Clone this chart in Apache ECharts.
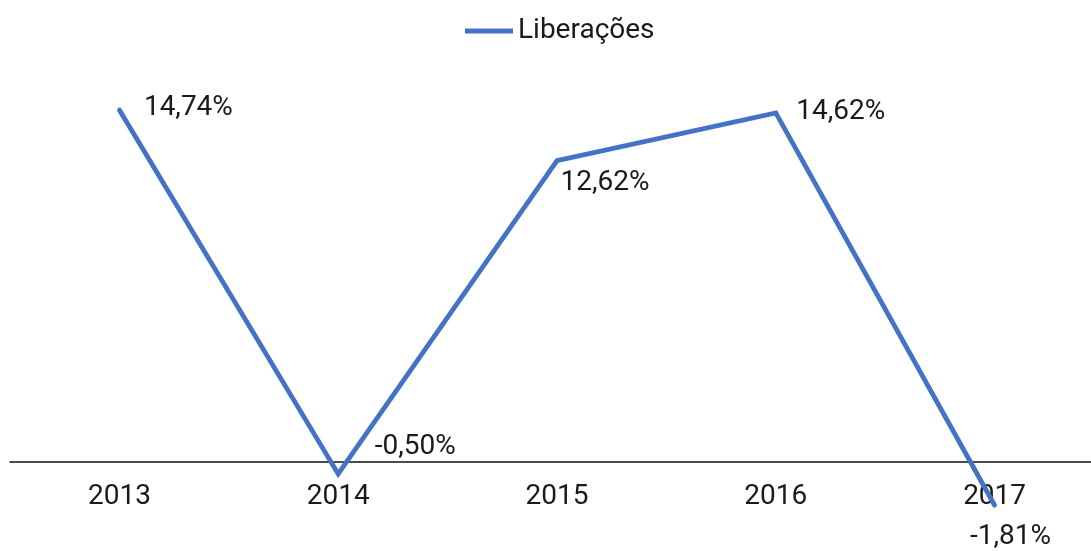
<!DOCTYPE html>
<html>
<head>
<meta charset="utf-8">
<style>
  html, body { margin: 0; padding: 0; background: #fff; }
  #chart { width: 1091px; height: 551px; }
</style>
<script src="https://cdn.jsdelivr.net/npm/echarts@6/dist/echarts.min.js"></script>
</head>
<body>
<div id="chart"></div>
<script>
// Annual change in releases (%)
const years = ['2013', '2014', '2015', '2016', '2017'];
const liberacoes = [14.74, -0.50, 12.62, 14.62, -1.81];
const seriesName = 'Liberações';

// Per-point label placement relative to each point: [dx, dy]
const labelOffsets = [[24, -2], [36, -27], [3, 22], [20, -1], [-25, 32]];

const fmt = v => v.toFixed(2).replace('.', ',') + '%';
const FONT = 'Roboto, "DejaVu Sans", sans-serif';

const chart = echarts.init(document.getElementById('chart'));
chart.setOption({
  backgroundColor: '#ffffff',
  animation: false,
  legend: {
    data: [seriesName],
    left: 460,
    top: 12,
    icon: 'rect',
    itemWidth: 48,
    itemHeight: 5,
    textStyle: { fontFamily: FONT, fontSize: 28, color: '#1a1a1a' }
  },
  // The x axis sits on the zero line (grid bottom); negative points spill below it.
  grid: { left: 10, width: 1094, top: 80, bottom: 89, outerBoundsMode: 'none', containLabel: false },
  xAxis: {
    type: 'category',
    data: years,
    boundaryGap: true,
    axisLine: { onZero: false, lineStyle: { color: '#111111', width: 1.6 } },
    axisTick: { show: false },
    axisLabel: { fontFamily: FONT, fontSize: 28, color: '#1a1a1a', margin: 21 }
  },
  yAxis: {
    type: 'value',
    min: 0,
    max: 16,
    show: false,
    splitLine: { show: false }
  },
  series: [{
    name: seriesName,
    type: 'line',
    clip: false,
    data: liberacoes.map((v, i) => ({
      value: v,
      label: { offset: labelOffsets[i] }
    })),
    symbol: 'circle',
    symbolSize: 1,
    showSymbol: true,
    lineStyle: { color: '#4472C4', width: 4.8, cap: 'round', join: 'miter' },
    itemStyle: { color: '#4472C4' },
    label: {
      show: true,
      position: 'right',
      distance: 0,
      formatter: p => fmt(p.value),
      fontFamily: FONT,
      fontSize: 28,
      color: '#1a1a1a'
    },
    z: 3
  }]
});
</script>
</body>
</html>
